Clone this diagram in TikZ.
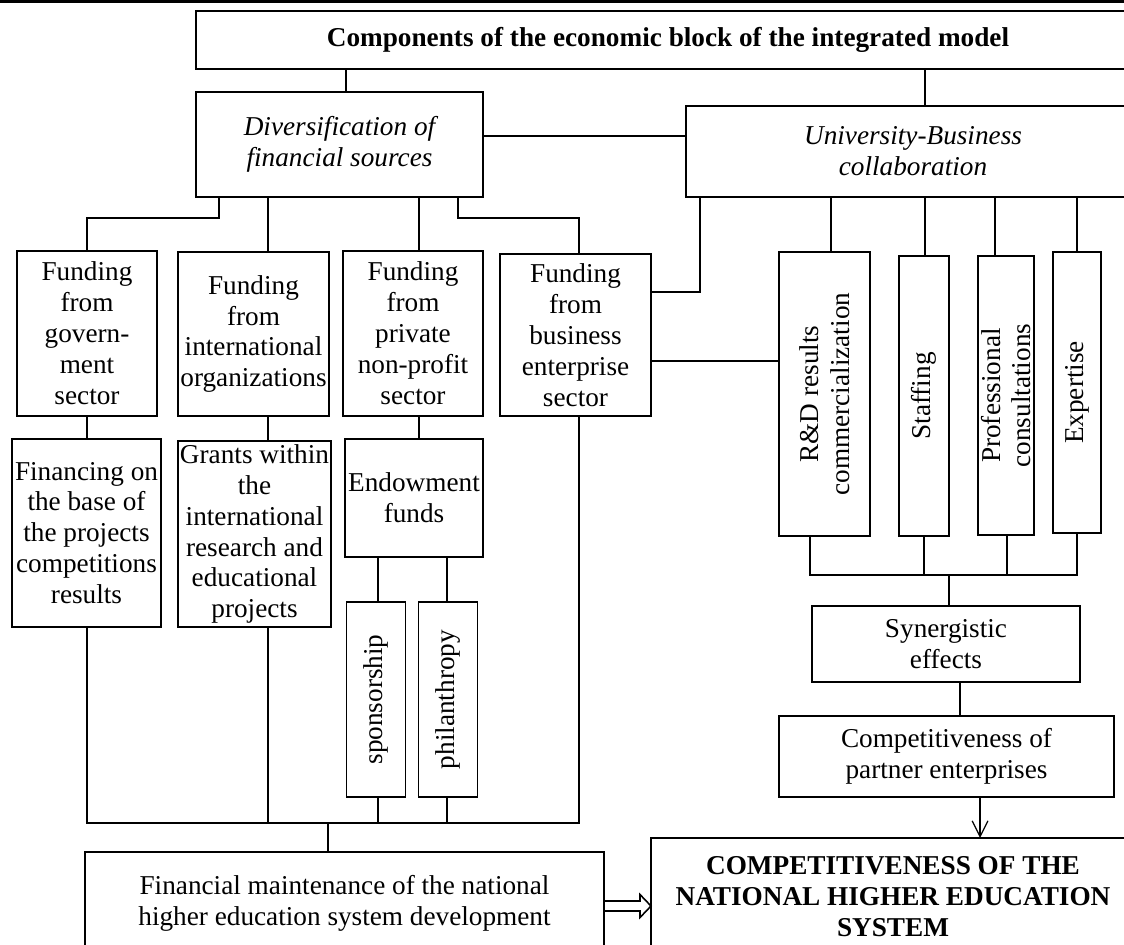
\documentclass[tikz,border=0pt]{standalone}
\usepackage{fontspec}
\setmainfont{Liberation Serif}
\usetikzlibrary{calc,arrows.meta}
\begin{document}
\begin{tikzpicture}[x=0.02cm,y=-0.02cm,
box/.style={draw,line width=0.6pt,align=center,inner sep=0pt,outer sep=0pt,font=\fontsize{15.5}{17.6}\selectfont},
sz/.style 2 args={minimum width=#1*0.02cm,minimum height=#2*0.02cm},
bf/.style={font=\fontsize{15.5}{17.6}\selectfont\bfseries},
it/.style={font=\fontsize{15.5}{17.6}\selectfont\itshape},
link/.style={line width=1.15pt},
arr/.style={line width=0.7pt,-{Straight Barb[length=9pt,width=9pt]}},
hol/.style={line width=0.9pt,line join=miter}]
\useasboundingbox (0,0) rectangle (1124,944);
\draw[line width=1.8pt] (0,1.5) -- (1124,1.5);
\node[box,bf,sz={944}{58}] (comp) at (668,40) {Components of the economic block of the integrated model};
\node[box,it,sz={287}{105}] (div) at (339.5,144.5) {Diversification of\\financial sources};
\node[box,it,sz={454}{91}] (uni) at (913,151.5) {University-Business\\collaboration};
\node[box,sz={140}{165}] (gov) at (87,333.5) {Funding\\from\\govern-\\ment\\sector};
\node[box,sz={151}{164}] (int) at (253.5,334) {Funding\\from\\international\\organizations};
\node[box,sz={140}{165}] (priv) at (413,333.5) {Funding\\from\\private\\non-profit\\sector};
\node[box,sz={151}{162}] (bus) at (575.5,335) {Funding\\from\\business\\enterprise\\sector};
\node[box,sz={284}{91},rotate=90] (rd) at (824.5,394) {R\&D results\\commercialization};
\node[box,sz={280}{50},rotate=90] (staff) at (924,396) {Staffing};
\node[box,sz={279}{56},rotate=90] (prof) at (1006,395.5) {Professional\\consultations};
\node[box,sz={281}{48},rotate=90] (exp) at (1077,392.5) {Expertise};
\node[box,sz={149}{188}] (fin) at (86.5,533) {Financing on\\the base of\\the projects\\competitions\\results};
\node[box,sz={153}{186}] (grants) at (254.5,534) {Grants within\\the\\international\\research and\\educational\\projects};
\node[box,sz={138}{118}] (endow) at (414,498) {Endowment\\funds};
\node[box,sz={195}{59},rotate=90] (spons) at (376,699.5) {sponsorship};
\node[box,sz={195}{59},rotate=90] (phil) at (448,699.5) {philanthropy};
\node[box,sz={268}{76}] (syn) at (946,644) {Synergistic\\effects};
\node[box,sz={335}{81}] (part) at (946.5,756.5) {Competitiveness of\\partner enterprises};
\node[box,bf,sz={484}{117}] (final) at (893,896.5) {COMPETITIVENESS OF THE\\NATIONAL HIGHER EDUCATION\\SYSTEM};
\node[box,sz={519}{103}] (finm) at (344.5,903.5) {Financial maintenance of the national\\higher education system development};
\draw[link] ($(div.north)+(6.5,0)$) coordinate (t) -- (t |- comp.south);
\draw[link] ($(uni.north)+(12,0)$) coordinate (t) -- (t |- comp.south);
\draw[link] ($(div.north east)+(0,44)$) coordinate (t) -- (t -| uni.west);
\draw[link] ($(div.south west)+(23,0)$) -- ++(0,21) -| (gov.north);
\draw[link] ($(int.north)+(14.5,0)$) coordinate (t) -- (t |- div.south);
\draw[link] ($(priv.north)+(6,0)$) coordinate (t) -- (t |- div.south);
\draw[link] ($(div.south west)+(262,0)$) -- ++(0,21) -| ($(bus.north)+(3.5,0)$);
\draw[link] ($(uni.south west)+(14,0)$) |- ($(bus.north east)+(0,38)$);
\draw[link] ($(bus.north east)+(0,107)$) coordinate (t) -- (t -| rd.north);
\foreach \n/\d in {rd/6.5,staff/1,prof/-11,exp/0}
  \draw[link] ($(\n.east)+(\d,0)$) coordinate (t) -- (t |- uni.south);
\coordinate (jr) at ($(rd.west)+(-14.5,39)$);
\draw[link] (jr |- rd.west) -- (jr) -- (jr -| exp.west) -- (exp.west);
\draw[link] (staff.west) -- (staff.west |- jr);
\draw[link] ($(prof.west)+(1,0)$) coordinate (t) -- (t |- jr);
\draw[link] ($(syn.north)+(3,0)$) coordinate (t) -- (t |- jr);
\draw[link] ($(syn.south)+(14,0)$) coordinate (t) -- (t |- part.north);
\draw[arr] ($(part.south)+(33.5,0)$) coordinate (t) -- (t |- final.north);
\draw[link] (gov.south) -- (gov.south |- fin.north);
\draw[link] ($(int.south)+(14.5,0)$) coordinate (t) -- (t |- grants.north);
\draw[link] ($(priv.south)+(6,0)$) coordinate (t) -- (t |- endow.north);
\draw[link] ($(spons.east)+(2,0)$) coordinate (t) -- (t |- endow.south);
\draw[link] ($(phil.east)+(-1,0)$) coordinate (t) -- (t |- endow.south);
\coordinate (jl) at ($(fin.south)+(0.5,196)$);
\draw[link] ($(bus.south)+(3.5,0)$) coordinate (t) -- (t |- jl) -- (jl) -- (jl |- fin.south);
\draw[link] ($(grants.south)+(13.5,0)$) coordinate (t) -- (t |- jl);
\draw[link] ($(spons.west)+(2,0)$) coordinate (t) -- (t |- jl);
\draw[link] ($(phil.west)+(-1,0)$) coordinate (t) -- (t |- jl);
\draw[link] ($(finm.north)+(-16.5,0)$) coordinate (t) -- (t |- jl);
\draw[hol] ($(finm.north east)+(0,49)$) coordinate (t) -- ++(36,0) -- ++(0,-6.5) -- ($(t -| final.west)+(0,5)$)
  -- ($(t)+(36,16.5)$) -- ++(0,-6.5) -- ($(t)+(0,10)$);
\end{tikzpicture}
\end{document}
